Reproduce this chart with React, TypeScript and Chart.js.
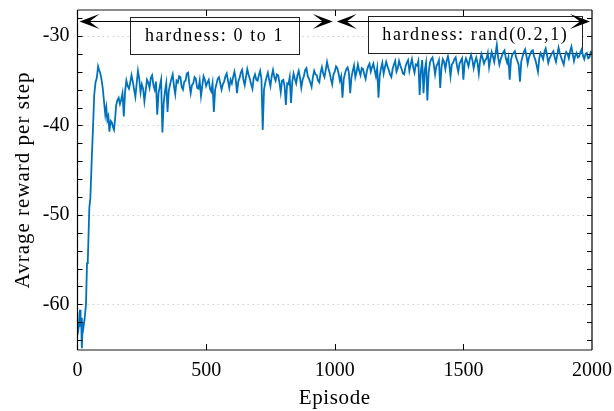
import React, { useEffect, useRef } from "react";
import { Chart, registerables } from "chart.js";
Chart.register(...registerables);

// ---- data ----
const earlyEpisodes = [0, 5, 8, 10, 12, 14, 17, 20, 23, 27, 33, 37, 40, 46, 50, 56, 60, 65, 70, 75, 80, 84, 88, 93, 98, 103, 108, 112, 116, 120, 124, 129, 134, 138, 142, 147];
const earlyReward = [-63.4, -62.5, -61.0, -60.6, -62.5, -61.5, -64.9, -62.0, -62.6, -61.8, -60.0, -55.4, -55.2, -49.2, -48.1, -43.3, -40.5, -36.6, -35.2, -34.7, -33.4, -33.8, -34.1, -34.8, -35.8, -37.3, -38.8, -38.0, -39.4, -39.0, -40.7, -39.5, -39.7, -40.2, -40.5, -39.0];
const mainStartEpisode = 150;
const mainStepEpisode = 5;
const mainReward = [
  // 150-245
  -37.8, -37.2, -36.9, -37.6, -37.1, -36.4, -39.0, -36.2, -35.0, -35.6, -35.9, -35.2, -34.4, -35.1, -36.0, -36.8, -35.3, -33.9, -34.8, -36.3,
  // 250-345
  -35.4, -35.9, -37.3, -36.1, -34.9, -35.2, -35.8, -34.7, -34.4, -35.5, -36.0, -35.1, -38.8, -36.4, -35.6, -34.9, -40.8, -37.5, -36.2, -35.3,
  // 350-445
  -38.5, -36.1, -35.4, -34.8, -34.3, -35.6, -36.5, -35.0, -35.2, -34.5, -34.6, -35.7, -36.0, -35.1, -35.0, -34.2, -34.1, -35.4, -36.4, -35.5,
  // 450-545
  -35.3, -34.6, -34.8, -35.8, -35.9, -35.0, -36.7, -35.6, -34.5, -34.9, -35.6, -35.2, -34.9, -35.9, -36.2, -35.3, -38.5, -36.0, -35.4, -34.8,
  // 550-645
  -34.6, -35.3, -36.0, -35.4, -35.1, -34.5, -34.2, -35.0, -35.8, -34.9, -35.3, -34.6, -34.0, -34.8, -36.4, -35.1, -34.7, -34.1, -33.8, -34.9,
  // 650-745
  -35.5, -34.6, -33.7, -34.3, -34.8, -35.4, -35.9, -34.7, -34.3, -34.9, -35.0, -34.4, -33.9, -34.8, -40.5, -36.0, -35.2, -34.6, -34.1, -34.9,
  // 750-845
  -35.6, -34.5, -33.8, -34.6, -35.0, -34.3, -34.4, -35.2, -36.3, -35.0, -34.9, -35.6, -37.7, -35.3, -35.4, -34.6, -37.5, -35.1, -34.2, -34.8,
  // 850-945
  -35.3, -34.4, -33.9, -34.7, -35.8, -34.9, -34.5, -33.8, -33.6, -34.5, -34.8, -35.2, -35.7, -34.6, -33.9, -34.3, -34.4, -35.0, -35.2, -34.1,
  // 950-1045
  -33.5, -34.2, -34.6, -33.8, -32.9, -33.6, -34.1, -34.8, -35.4, -34.3, -34.0, -33.4, -33.6, -34.2, -35.0, -34.5, -36.9, -34.8, -34.2, -33.7,
  // 1050-1145
  -33.5, -34.1, -36.4, -34.6, -33.9, -33.3, -34.6, -34.0, -33.2, -33.9, -34.4, -33.6, -33.7, -34.3, -34.8, -33.9, -33.4, -33.1, -34.0, -33.5,
  // 1150-1245
  -33.1, -33.8, -34.5, -33.6, -36.9, -34.4, -33.6, -33.0, -34.2, -33.5, -32.9, -33.4, -33.8, -34.3, -34.6, -33.7, -33.2, -32.8, -34.0, -33.6,
  // 1250-1345
  -32.8, -33.3, -33.7, -34.2, -34.3, -33.4, -33.0, -32.7, -33.9, -33.2, -32.6, -33.5, -34.1, -33.2, -33.3, -32.8, -36.6, -33.9, -32.7, -36.4,
  // 1350-1445
  -33.8, -33.0, -37.2, -34.1, -33.0, -32.6, -32.4, -33.2, -34.3, -33.4, -33.1, -32.7, -35.8, -33.5, -32.6, -32.9, -33.7, -32.8, -32.3, -33.1,
  // 1450-1545
  -34.5, -33.2, -33.0, -32.6, -32.4, -33.3, -34.0, -33.1, -32.8, -32.5, -34.9, -33.0, -32.5, -32.9, -33.4, -32.6, -32.1, -32.7, -33.6, -32.9,
  // 1550-1645
  -32.4, -33.0, -34.2, -32.8, -32.0, -32.5, -33.1, -32.7, -32.5, -31.9, -33.5, -32.6, -31.8, -32.3, -32.9, -32.0, -31.0, -32.4, -33.2, -32.6,
  // 1650-1745
  -32.2, -31.8, -31.6, -32.5, -33.0, -32.4, -34.9, -32.7, -32.1, -31.9, -31.7, -32.4, -32.8, -33.2, -35.1, -32.9, -32.3, -31.8, -31.5, -32.2,
  // 1750-1845
  -33.1, -32.4, -32.0, -31.7, -31.6, -32.3, -32.7, -33.3, -34.0, -32.5, -31.9, -32.2, -32.6, -31.8, -31.4, -32.1, -33.0, -32.5, -32.2, -31.9,
  // 1850-1945
  -31.7, -32.4, -32.9, -32.1, -31.3, -31.9, -32.4, -32.8, -33.2, -32.3, -31.8, -32.0, -32.5, -31.7, -31.2, -32.0, -32.8, -32.2, -31.9, -32.4,
  // 1950-2000
  -32.3, -31.8, -31.5, -32.2, -32.6, -32.0, -31.9, -32.5, -32.4, -31.8, -31.9,
];
const xTicks = [0, 500, 1000, 1500, 2000];
const yMajorTicks = [-60, -50, -40, -30];
const phaseBounds = [0, 1000, 2000];
const phaseLabels = ["hardness: 0 to 1", "hardness: rand(0.2,1)"];

// annotation placement (data coordinates)
const arrowLevel = -28.3;
const labelBoxes = [
  { x0: 204, x1: 861, y0: -27.9, y1: -32.0 },
  { x0: 1131, x1: 1962, y0: -27.8, y1: -31.9 },
];

const FONT = "'Liberation Serif', 'DejaVu Serif', serif";

function buildPoints() {
  const pts: { x: number; y: number }[] = [];
  earlyEpisodes.forEach((e, i) => pts.push({ x: e, y: earlyReward[i] }));
  mainReward.forEach((v, i) => pts.push({ x: mainStartEpisode + i * mainStepEpisode, y: v }));
  return pts;
}

function drawArrowHead(ctx: CanvasRenderingContext2D, tx: number, ty: number, dir: number) {
  const L = 20, W = 7.5, N = 0.5 * L;
  ctx.beginPath();
  ctx.moveTo(tx, ty);
  ctx.lineTo(tx - dir * L, ty - W);
  ctx.lineTo(tx - dir * N, ty);
  ctx.lineTo(tx - dir * L, ty + W);
  ctx.closePath();
  ctx.fill();
}

const overlay = {
  id: "overlay",
  beforeDatasetsDraw(chart: any) {
    const { ctx, chartArea: ca, scales } = chart;
    const x = scales.x, y = scales.y;
    ctx.save();
    // dotted horizontal grid
    ctx.strokeStyle = "#d0d0d0";
    ctx.lineWidth = 1;
    ctx.setLineDash([1.5, 3.5]);
    yMajorTicks.forEach((v) => {
      const py = Math.round(y.getPixelForValue(v)) + 0.5;
      ctx.beginPath();
      ctx.moveTo(ca.left, py);
      ctx.lineTo(ca.right, py);
      ctx.stroke();
    });
    ctx.setLineDash([]);
    // label boxes
    labelBoxes.forEach((b, i) => {
      const l = x.getPixelForValue(b.x0), r = x.getPixelForValue(b.x1);
      const t = y.getPixelForValue(b.y0), bt = y.getPixelForValue(b.y1);
      ctx.fillStyle = "#fff";
      ctx.fillRect(l, t, r - l, bt - t);
      ctx.strokeStyle = "#222";
      ctx.lineWidth = 1;
      ctx.strokeRect(Math.round(l) + 0.5, Math.round(t) + 0.5, Math.round(r - l), Math.round(bt - t));
      ctx.fillStyle = "#000";
      ctx.font = `18px ${FONT}`;
      ctx.textAlign = "center";
      ctx.textBaseline = "middle";
      (ctx as any).letterSpacing = "1.6px";
      ctx.fillText(phaseLabels[i], (l + r) / 2, (t + bt) / 2 + 0.5);
      (ctx as any).letterSpacing = "0px";
    });
    ctx.restore();
  },
  afterDatasetsDraw(chart: any) {
    const { ctx, chartArea: ca, scales } = chart;
    const x = scales.x, y = scales.y;
    ctx.save();
    const ay = Math.round(y.getPixelForValue(arrowLevel)) + 0.5;
    ctx.strokeStyle = "#000";
    ctx.fillStyle = "#000";
    ctx.lineWidth = 1;
    for (let i = 0; i < phaseBounds.length - 1; i++) {
      const a = x.getPixelForValue(phaseBounds[i]) + 2;
      const b = x.getPixelForValue(phaseBounds[i + 1]) - 2;
      ctx.beginPath();
      ctx.moveTo(a + 5, ay);
      ctx.lineTo(b - 5, ay);
      ctx.stroke();
      drawArrowHead(ctx, a, ay, -1);
      drawArrowHead(ctx, b, ay, 1);
    }
    // frame
    ctx.lineWidth = 1.5;
    ctx.strokeStyle = "#666";
    ctx.beginPath();
    ctx.moveTo(ca.left, ca.top);
    ctx.lineTo(ca.right, ca.top);
    ctx.moveTo(ca.left, ca.bottom);
    ctx.lineTo(ca.right, ca.bottom);
    ctx.stroke();
    ctx.strokeStyle = "#000";
    ctx.lineWidth = 1.2;
    ctx.beginPath();
    ctx.moveTo(ca.left, ca.top);
    ctx.lineTo(ca.left, ca.bottom);
    ctx.moveTo(ca.right, ca.top);
    ctx.lineTo(ca.right, ca.bottom);
    ctx.stroke();
    // y ticks (minor every 2)
    ctx.lineWidth = 1;
    const ymin = y.min, ymax = y.max;
    for (let v = Math.ceil(ymin / 2) * 2; v <= ymax; v += 2) {
      const py = Math.round(y.getPixelForValue(v)) + 0.5;
      ctx.beginPath();
      ctx.moveTo(ca.left, py);
      ctx.lineTo(ca.left + 5, py);
      ctx.moveTo(ca.right, py);
      ctx.lineTo(ca.right - 5, py);
      ctx.stroke();
    }
    // x ticks
    xTicks.slice(1, -1).forEach((v) => {
      const px = Math.round(x.getPixelForValue(v)) + 0.5;
      ctx.beginPath();
      ctx.moveTo(px, ca.bottom);
      ctx.lineTo(px, ca.bottom - 6);
      ctx.moveTo(px, ca.top);
      ctx.lineTo(px, ca.top + 6);
      ctx.stroke();
    });
    // axis titles
    ctx.fillStyle = "#000";
    ctx.font = `21px ${FONT}`;
    ctx.textAlign = "center";
    ctx.textBaseline = "alphabetic";
    (ctx as any).letterSpacing = "0.6px";
    ctx.fillText("Episode", (ca.left + ca.right) / 2, 404);
    ctx.translate(29, (ca.top + ca.bottom) / 2);
    ctx.rotate(-Math.PI / 2);
    (ctx as any).letterSpacing = "1px";
    ctx.fillText("Avrage reward per step", 0, 0);
    ctx.restore();
  },
};

export default function App() {
  const ref = useRef<HTMLCanvasElement>(null);
  useEffect(() => {
    if (!ref.current) return;
    const chart = new Chart(ref.current, {
      type: "line",
      data: {
        datasets: [
          {
            data: buildPoints(),
            borderColor: "#0072BD",
            borderWidth: 1.8,
            pointRadius: 0,
            tension: 0,
            fill: false,
          },
        ],
      },
      options: {
        responsive: false,
        animation: false,
        events: [],
        layout: { padding: { left: 0, right: 22, top: 10, bottom: 0 } },
        plugins: { legend: { display: false }, tooltip: { enabled: false } },
        scales: {
          x: {
            type: "linear",
            min: 0,
            max: 2000,
            grid: { display: false, drawTicks: false },
            border: { display: false },
            afterBuildTicks: (s: any) => {
              s.ticks = xTicks.map((v) => ({ value: v }));
            },
            afterFit: (s: any) => {
              s.height = 61;
              s.paddingLeft = 0;
              s.paddingRight = 0;
              s.paddingTop = 0;
              s.paddingBottom = 0;
            },
            ticks: {
              padding: 9,
              color: "#000",
              font: { family: FONT, size: 20 },
              maxRotation: 0,
              autoSkip: false,
              callback: (v: any) => String(v),
            },
          },
          y: {
            type: "linear",
            min: -65.1,
            max: -27.1,
            grid: { display: false, drawTicks: false },
            border: { display: false },
            afterBuildTicks: (s: any) => {
              s.ticks = yMajorTicks.map((v) => ({ value: v }));
            },
            afterFit: (s: any) => {
              s.width = 77.5;
              s.paddingLeft = 0;
              s.paddingRight = 0;
              s.paddingTop = 0;
              s.paddingBottom = 0;
            },
            ticks: {
              padding: 8,
              color: "#000",
              font: { family: FONT, size: 20 },
              autoSkip: false,
              callback: (v: any) => String(v),
            },
          },
        },
      },
      plugins: [overlay],
    });
    return () => chart.destroy();
  }, []);
  return (
    <div style={{ position: "absolute", left: 0, top: 0, width: 614, height: 411, background: "#fff" }}>
      <canvas ref={ref} width={614} height={411} style={{ width: 614, height: 411, display: "block" }} />
    </div>
  );
}
